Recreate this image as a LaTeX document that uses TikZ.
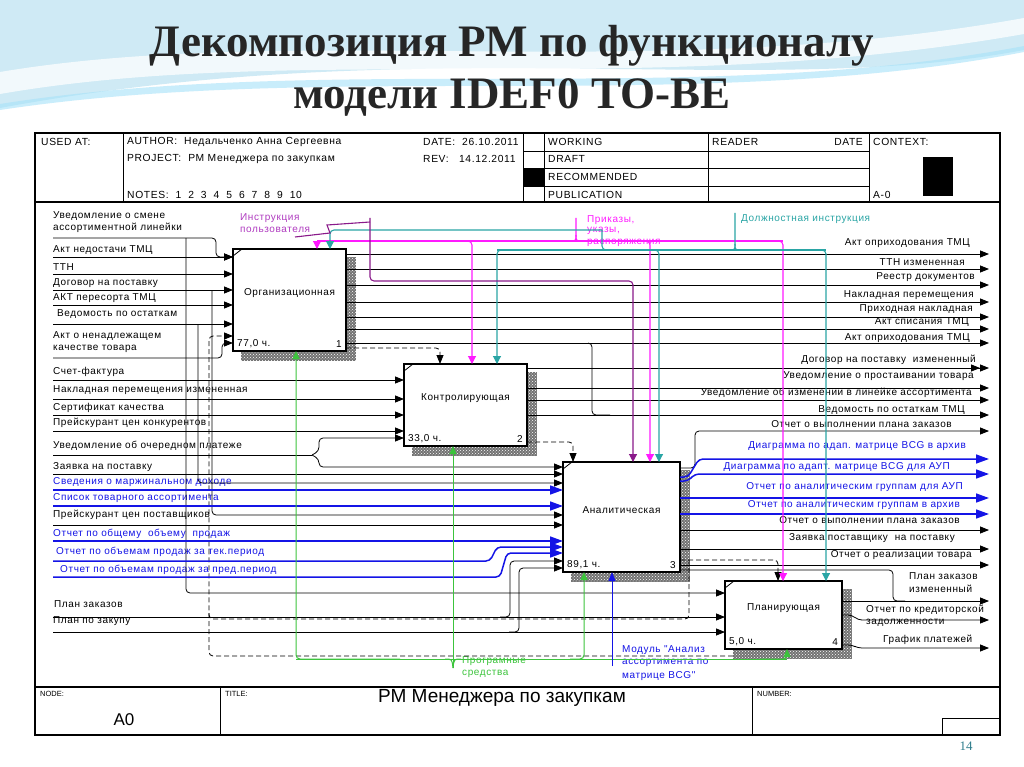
\documentclass[tikz,border=0pt]{standalone}
\usepackage{fontspec}
\setmainfont{Liberation Sans}
\newfontfamily\ttlfont{Liberation Serif}
\newfontfamily\idf[LetterSpace=6]{Liberation Sans}
\usetikzlibrary{arrows.meta,patterns,calc}
\definecolor{idblue}{HTML}{1414E6}
\definecolor{idmag}{HTML}{FF1AFF}
\definecolor{idteal}{HTML}{2AA5A5}
\definecolor{idpur}{HTML}{8A1A8A}
\definecolor{idlab}{HTML}{B03CC0}
\definecolor{idgreen}{HTML}{3CC43C}
\definecolor{swoosh}{HTML}{CFEAF5}
\definecolor{pgnum}{HTML}{2E7D8C}
\begin{document}
\begin{tikzpicture}[x=1pt,y=-1pt,
  lbl/.style={font=\idf\fontsize{10}{11}\selectfont, inner sep=0pt, text=black},
  lw/.style={lbl, anchor=west},
  le/.style={lbl, anchor=east},
  hdr/.style={font=\idf\fontsize{10.3}{12}\selectfont, inner sep=0pt, anchor=west},
  box/.style={draw, line width=1.6pt, fill=white, inner sep=0pt, outer sep=0pt},
  shd/.style={pattern=crosshatch dots, pattern color=white},
  ln/.style={draw=black, line width=0.8pt, rounded corners=4pt},
  arr/.style={ln, -{Triangle[length=9pt,width=7pt]}},
  arrr/.style={ln, -{Triangle[length=9pt,width=7pt]Triangle[length=9pt,width=7pt]}},
  dsh/.style={ln, dash pattern=on 5pt off 3pt},
  darr/.style={dsh, -{Triangle[length=9pt,width=7pt]}},
  bl/.style={draw=idblue, line width=1.5pt, rounded corners=4pt},
  barr/.style={bl, -{Triangle[length=13pt,width=9pt]}},
  mg/.style={draw=idmag, line width=1.1pt, rounded corners=4pt},
  marr/.style={mg, -{Triangle[length=8pt,width=8pt]}},
  tl/.style={draw=idteal, line width=1.1pt, rounded corners=4pt},
  tarr/.style={tl, -{Triangle[length=8pt,width=8pt]}},
  pu/.style={draw=idpur, line width=1.1pt, rounded corners=4pt},
  parr/.style={pu, -{Triangle[length=8pt,width=8pt]}},
  gr/.style={draw=idgreen, line width=1pt, rounded corners=4pt},
  garr/.style={gr, -{Triangle[length=8pt,width=7pt]}},
]
\useasboundingbox (0,0) rectangle (1024,767);
\fill[white] (0,0) rectangle (1024,767);
% slide background swoosh
\fill[swoosh] (0,0) -- (1024,0) -- (1024,50) .. controls (760,100) and (420,30) .. (0,108) -- cycle;
\fill[white,opacity=0.75] (0,72) .. controls (300,22) and (650,85) .. (1024,18) -- (1024,34) .. controls (650,100) and (300,42) .. (0,94) -- cycle;
\fill[cyan!35,opacity=0.6] (0,104) .. controls (330,52) and (700,108) .. (1024,46) -- (1024,52) .. controls (700,115) and (330,60) .. (0,110) -- cycle;

% title
\node[font=\ttlfont\bfseries\fontsize{45}{50}\selectfont, text=black!85] (t1) at (512,46) {Декомпозиция РМ по функционалу};
\node[font=\ttlfont\bfseries\fontsize{45}{50}\selectfont, text=black!85] (t2) at (512,97) {модели IDEF0 TO-BE};

% frame, header, footer
\draw[line width=1.2pt] (35,133) rectangle (1000,735);
\draw[line width=1.2pt] (35,202) -- (1000,202);
\foreach \xx in {123,523,544,708,869} \draw[line width=0.8pt] (\xx,133) -- (\xx,202);
\foreach \yy in {151,168,186} \draw[line width=0.8pt] (523,\yy) -- (869,\yy);
\fill (523,168) rectangle (544,186);
\fill (923,157) rectangle (953,196);
\node[hdr] (h1) at (41,142) {USED AT:};
\node[hdr] (h2) at (127,142) {AUTHOR:\ \ Недальченко Анна Сергеевна};
\node[hdr] (h3) at (127,159) {PROJECT:\ \ РМ Менеджера по закупкам};
\node[hdr] (h4) at (127,195) {NOTES:\ \ 1\ \ 2\ \ 3\ \ 4\ \ 5\ \ 6\ \ 7\ \ 8\ \ 9\ \ 10};
\node[hdr] (h5) at (423,142) {DATE:\ \ 26.10.2011};
\node[hdr] (h6) at (423,159) {REV:\ \ \ 14.12.2011};
\node[hdr] (h7) at (548,142) {WORKING};
\node[hdr] (h8) at (548,159) {DRAFT};
\node[hdr] (h9) at (548,177) {RECOMMENDED};
\node[hdr] (h10) at (548,195) {PUBLICATION};
\node[hdr] (h11) at (712,142) {READER};
\node[hdr,anchor=east] (h12) at (863,142) {DATE};
\node[hdr] (h13) at (873,142) {CONTEXT:};
\node[hdr] (h14) at (873,195) {A-0};

\draw[line width=1.2pt] (35,687) -- (1000,687);
\draw[line width=0.8pt] (220,687) -- (220,735);
\draw[line width=0.8pt] (752,687) -- (752,735);
\draw[line width=0.8pt] (942,735) -- (942,718) -- (1000,718);
\node[font=\fontsize{7.5}{9}\selectfont, anchor=west, inner sep=0pt] (f1) at (40,694) {NODE:};
\node[font=\fontsize{7.5}{9}\selectfont, anchor=west, inner sep=0pt] (f2) at (225,694) {TITLE:};
\node[font=\fontsize{7.5}{9}\selectfont, anchor=west, inner sep=0pt] (f3) at (757,694) {NUMBER:};
\node[font=\fontsize{19}{22}\selectfont, inner sep=0pt] (f4) at (502,698) {РМ Менеджера по закупкам};
\node[font=\fontsize{17}{20}\selectfont, inner sep=0pt] (f5) at (124,720) {A0};
\node[font=\ttlfont\fontsize{13}{15}\selectfont, text=pgnum, inner sep=0pt] (pg) at (966,746) {14};

% boxes with shadows
\foreach \sx/\sy/\ex/\ey in {241/257/356/361, 412/372/537/456, 571/470/690/582, 733/589/852/659}{
  \fill[black!55] (\sx,\sy) rectangle (\ex,\ey);
  \fill[shd] (\sx,\sy) rectangle (\ex,\ey);
}
\node[box, minimum width=113pt, minimum height=102pt] (b1) at (289.5,300) {};
\node[box, minimum width=123pt, minimum height=82pt] (b2) at (465.5,405) {};
\node[box, minimum width=117pt, minimum height=110pt] (b3) at (621.5,517) {};
\node[box, minimum width=117pt, minimum height=68pt] (b4) at (783.5,615) {};
\foreach \bb/\nm/\tm/\nn in {b1/Организационная/{77,0 ч.}/1, b2/Контролирующая/{33,0 ч.}/2, b3/Аналитическая/{89,1 ч.}/3, b4/Планирующая/{5,0 ч.}/4}{
  \node[lbl] (\bb-name) at ($(\bb.center)+(0,-7)$) {\nm};
  \node[lbl, anchor=south west] (\bb-time) at ($(\bb.south west)+(4,-3)$) {\tm};
  \node[lbl, anchor=south east] (\bb-num) at ($(\bb.south east)+(-4,-3)$) {\nn};
  \draw[line width=0.8pt] ($(\bb.north west)+(0,7)$) -- ($(\bb.north west)+(9,0)$);
}

% left labels
\node[lw] (L1) at (53,216) {Уведомление о смене};
\node[lw] (L1b) at (53,228) {ассортиментной линейки};
\node[lw] (L2) at (53,250) {Акт недостачи ТМЦ};
\node[lw] (L3) at (53,267) {ТТН};
\node[lw] (L4) at (53,283) {Договор на поставку};
\node[lw] (L5) at (53,298) {АКТ пересорта ТМЦ};
\node[lw] (L6) at (57,314) {Ведомость по остаткам};
\node[lw] (L7) at (53,336) {Акт о ненадлежащем};
\node[lw] (L7b) at (53,349) {качестве товара};
\node[lw] (L8) at (53,372) {Счет-фактура};
\node[lw] (L9) at (53,390) {Накладная перемещения измененная};
\node[lw] (L10) at (53,408) {Сертификат качества};
\node[lw] (L11) at (53,423) {Прейскурант цен конкурентов};
\node[lw] (L12) at (53,446) {Уведомление об очередном платеже};
\node[lw] (L13) at (53,467) {Заявка на поставку};
\node[lw,text=idblue] (L14) at (53,482) {Сведения о маржинальном доходе};
\node[lw,text=idblue] (L15) at (53,498) {Список товарного ассортимента};
\node[lw] (L16) at (53,515) {Прейскурант цен поставщиков};
\node[lw,text=idblue] (L17) at (53,534) {Отчет по общему\ \ объему\ \ продаж};
\node[lw,text=idblue] (L18) at (56,552) {Отчет по объемам продаж за тек.период};
\node[lw,text=idblue] (L19) at (60,570) {Отчет по объемам продаж за пред.период};
\node[lw] (L20) at (54,604) {План заказов};
\node[lw] (L21) at (53,621) {План по закупу};

% right labels
\node[le] (R1) at (970,243) {Акт оприходования ТМЦ};
\node[le] (R2) at (965,262) {ТТН измененная};
\node[le] (R3) at (975,277) {Реестр документов};
\node[le] (R4) at (974,295) {Накладная перемещения};
\node[le] (R5) at (973,309) {Приходная накладная};
\node[le] (R6) at (969,322) {Акт списания ТМЦ};
\node[le] (R7) at (970,338) {Акт оприходования ТМЦ};
\node[le] (R8) at (976,360) {Договор на поставку\ \ измененный};
\node[le] (R9) at (974,376) {Уведомление о простаивании товара};
\node[le] (R10) at (972,393) {Уведомление об изменении в линейке ассортимента};
\node[le] (R11) at (965,410) {Ведомость по остаткам ТМЦ};
\node[le] (R12) at (952,424) {Отчет о выполнении плана заказов};
\node[le,text=idblue] (R13) at (966,446) {Диаграмма по адап. матрице BCG в архив};
\node[le,text=idblue] (R14) at (950,467) {Диаграмма по адапт. матрице BCG для АУП};
\node[le,text=idblue] (R15) at (963,487) {Отчет по аналитическим группам для АУП};
\node[le,text=idblue] (R16) at (960,505) {Отчет по аналитическим группам в архив};
\node[le] (R17) at (960,520) {Отчет о выполнении плана заказов};
\node[le] (R18) at (955,538) {Заявка поставщику\ \ на поставку};
\node[le] (R19) at (972,555) {Отчет о реализации товара};
\node[lw] (R20) at (909,576) {План заказов};
\node[lw] (R20b) at (909,589) {измененный};
\node[lw] (R21) at (866,610) {Отчет по кредиторской};
\node[lw] (R21b) at (866,623) {задолженности};
\node[lw] (R22) at (883,640) {График платежей};

% top / bottom labels
\node[lw,text=idlab] (C1) at (240,218) {Инструкция};
\node[lw,text=idlab] (C1b) at (240,230) {пользователя};
\node[lw,text=idmag] (C2) at (587,220) {Приказы,};
\node[lw,text=idmag] (C2b) at (587,231) {указы,};
\node[lw,text=idmag] (C2c) at (587,243) {распоряжения};
\node[lw,text=idteal] (C3) at (741,219) {Должностная инструкция};
\node[lw,text=idgreen] (M1) at (462,661) {Програмные};
\node[lw,text=idgreen] (M1b) at (462,674) {средства};
\node[lw,text=idblue] (M2) at (622,650) {Модуль "Анализ};
\node[lw,text=idblue] (M2b) at (622,663) {ассортимента по};
\node[lw,text=idblue] (M2c) at (622,676) {матрице BCG"};

% coordinates
\foreach \nm/\yy in {a1/238,a2/257,a3/274,a4/290,a5/305,a6/324,a7/358,a8/380,a9/399,a10/415,a11/431,a12/455,a13/474,a14/490,a15/506,a16/525,a17/541,a18/561,a19/577,a20/617,a21/632}
  \coordinate (\nm) at (53,\yy);
\foreach \nm/\yy in {r1/254,r2/269,r3/285,r4/302,r5/317,r6/329,r7/343,r8/368,r9/388,r10/400,r11/415,r12/431,r13/459,r14/474,r15/498,r16/514,r17/530,r18/549,r19/565,r20/601,r21/620,r22/648}
  \coordinate (\nm) at (989,\yy);

% inputs box 1
\draw[arr] (a1) -- (216,238) -- (216,257) -- (a2 -| b1.west);
\draw[arr] (186,238) -- (186,593) -- ($(b4.north west)+(0,12)$);
\draw[arr] (a2) -- (a2 -| b1.west);
\draw[arr] (a3) -- (a3 -| b1.west);
\draw[arr] (a4) -- (a4 -| b1.west);
\draw[arr] (212,290) -- (212,515) -- ($(b3.north west)+(0,53)$);
\draw[arr] (a5) -- (a5 -| b1.west);
\draw[arr] (a6) -- (a6 -| b1.west);
\draw[arr] (198,324) -- (198,483) -- ($(b3.north west)+(0,21)$);
\draw[arr] (a7) -- (222,358) -- (222,343) -- ($(b1.north west)+(0,94)$);
% dashed feedback
\draw[darr] (689,560) -- (689,619) -- (209,619) -- (209,336) -- ($(b1.north west)+(0,87)$);
\draw[dsh] ($(b4.south west)+(8,7)$) -- (209,656) -- (209,612);
% inputs box 2
\draw[arr] (a8) -- (a8 -| b2.west);
\draw[arr] (a9) -- (a9 -| b2.west);
\draw[arr] (a10) -- (a10 -| b2.west);
\draw[arr] (a11) -- (a11 -| b2.west);
\draw[ln] (a12) -- (312,455);
\draw[arr] (312,455) -- (319,451) -- (319,438) -- ($(b2.north west)+(0,74)$);
\draw[arr] (312,455) -- (319,459) -- (319,467) -- ($(b3.north west)+(0,5)$);
% inputs box 3
\draw[arr] (a13) -- (a13 -| b3.west);
\draw[barr] (a14) -- (a14 -| b3.west);
\draw[barr] (a15) -- (a15 -| b3.west);
\draw[arr] (a16) -- (a16 -| b3.west);
\draw[barr] (a17) -- (a17 -| b3.west);
\draw[barr] (a18) -- (490,561) -- (497,547) -- ($(b3.north west)+(0,85)$);
\draw[barr] (a19) -- (500,577) -- (507,553) -- ($(b3.north west)+(0,91)$);
% inputs box 4
\draw[arr] (a20) -- (a20 -| b4.west);
\draw[arr] (500,617) -- (510,617) -- (510,561) -- ($(b3.north west)+(0,99)$);
\draw[arr] (a21) -- (a21 -| b4.west);
\draw[arr] (509,632) -- (519,632) -- (519,568) -- ($(b3.north west)+(0,106)$);

% outputs box 1
\foreach \rr in {r1,r2,r3,r4,r5,r6,r7} \draw[arr] (b1.east |- \rr) -- (\rr);
\draw[ln] (588,343) -- (592,343) -- (592,415) -- (610,415);
\coordinate (c12) at (440,348);
\draw[darr] (b1.east |- c12) -- (c12) -- (c12 |- b2.north);
% outputs box 2
\draw[arrr] (b2.east |- r8) -- (r8);
\foreach \rr in {r9,r10,r11} \draw[arr] (b2.east |- \rr) -- (\rr);
\coordinate (c23) at (573,442);
\draw[darr] (b2.east |- c23) -- (c23) -- (c23 |- b3.north);
% outputs box 3
\draw[arr] ($(b3.north east)+(0,6)$) -- (695,468) -- (695,431) -- (r12);
\draw[barr] ($(b3.north east)+(0,15)$) -- (688,477) -- (699,459) -- (r13);
\draw[barr] ($(b3.north east)+(0,19)$) -- (688,481) -- (695,474) -- (r14);
\draw[barr] (b3.east |- r15) -- (r15);
\draw[barr] (b3.east |- r16) -- (r16);
\draw[arr] (b3.east |- r17) -- (r17);
\draw[arr] (b3.east |- r18) -- (r18);
\draw[arr] (b3.east |- r19) -- (r19);
\draw[ln] ($(b3.south east)+(0,-2)$) -- (893,570) -- (893,601) -- (905,601);
\coordinate (c34) at (778,560);
\draw[darr] (b3.east |- c34) -- (c34) -- (c34 |- b4.north);
% outputs box 4
\draw[arr] (b4.east |- r20) -- (r20);
\draw[arr] ($(b4.north east)+(0,34)$) -- (852,615) -- (858,620) -- (r21);
\draw[arr] ($(b4.north east)+(0,64)$) -- (852,645) -- (858,648) -- (r22);

% controls: magenta
\coordinate (m1) at (317,241);
\coordinate (m2) at (472,241);
\coordinate (m3) at (650,241);
\coordinate (m4) at (783,241);
\draw[mg] (m1) -- (m4);
\draw[marr] (340,241) -- (m1) -- (m1 |- b1.north);
\draw[marr] (450,241) -- (m2) -- (m2 |- b2.north);
\draw[marr] (630,241) -- (m3) -- (m3 |- b3.north);
\draw[marr] (760,241) -- (m4) -- (m4 |- b4.north);
\draw[mg,sharp corners] (576,218) -- (576,235) .. controls (576,241) .. (569,241);
\draw[mg,sharp corners] (576,235) .. controls (576,241) .. (583,241);
% controls: teal
\coordinate (k1) at (330,230);
\coordinate (kj) at (602,230);
\coordinate (k2) at (497,250);
\coordinate (k3) at (659,250);
\coordinate (k4) at (826,250);
\draw[tarr] (kj) -- (k1) -- (k1 |- b1.north);
\draw[tl] (kj) -- (602,250) -- (620,250);
\draw[tl] (k2) -- (k4);
\draw[tarr] (520,250) -- (k2) -- (k2 |- b2.north);
\draw[tarr] (640,250) -- (k3) -- (k3 |- b3.north);
\draw[tarr] (800,250) -- (k4) -- (k4 |- b4.north);
\draw[tl,sharp corners] (735,213) -- (735,244) .. controls (735,250) .. (728,250);
\draw[tl,sharp corners] (735,244) .. controls (735,250) .. (742,250);
% controls: purple
\coordinate (p1) at (370,218);
\coordinate (p2) at (633,281);
\draw[parr] (p1) |- (p2) -- (p2 |- b3.north);
\draw[pu,sharp corners] (295,237) -- (330,233) -- (327,225) -- (370,222);

% mechanisms
\coordinate (g1) at (296,659);
\coordinate (g2) at (453,659);
\coordinate (g3) at (584,659);
\coordinate (g4) at (787,659);
\draw[gr] (g1) -- (g4);
\draw[garr] (400,659) -- (g1) -- (g1 |- b1.south);
\draw[garr] (453,668) -- (g2 |- b2.south);
\draw[garr] (570,659) -- (g3) -- (g3 |- b3.south);
\draw[garr] (760,659) -- (g4) -- (g4 |- b4.south);
\draw[gr,sharp corners] (445,659) .. controls (452,659) .. (453,668);
\draw[gr,sharp corners] (461,659) .. controls (454,659) .. (453,668);
\coordinate (bm) at (612,666);
\draw[draw=idblue, line width=1pt, -{Triangle[length=9pt,width=7pt]}] (bm) -- (bm |- b3.south);
\end{tikzpicture}
\end{document}
